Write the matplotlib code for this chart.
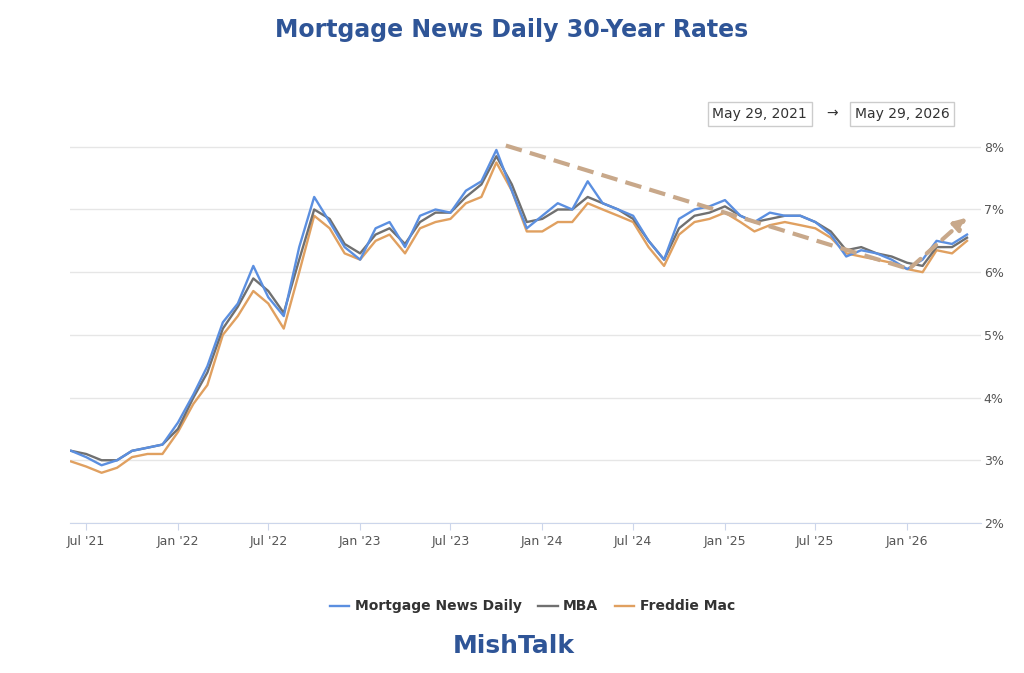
import numpy as np
import pandas as pd
import matplotlib
matplotlib.use('Agg')
import matplotlib.pyplot as plt
import matplotlib.dates as mdates

# monthly readings, Jun 2021 .. May 2026
months = pd.date_range("2021-06-01", "2026-05-01", freq="MS")

mnd = [3.15, 3.05, 2.92, 3.0, 3.15, 3.2, 3.25,
       3.6, 4.05, 4.5, 5.2, 5.5, 6.1, 5.6, 5.3, 6.4, 7.2, 6.8, 6.4,
       6.2, 6.7, 6.8, 6.4, 6.9, 7.0, 6.95, 7.3, 7.45, 7.95, 7.3, 6.7,
       6.9, 7.1, 7.0, 7.45, 7.1, 7.0, 6.9, 6.5, 6.2, 6.85, 7.0, 7.05,
       7.15, 6.9, 6.8, 6.95, 6.9, 6.9, 6.8, 6.6, 6.25, 6.35, 6.3, 6.2,
       6.05, 6.2, 6.5, 6.45, 6.6]
mba = [3.15, 3.1, 3.0, 3.0, 3.15, 3.2, 3.25,
       3.5, 4.0, 4.4, 5.1, 5.45, 5.9, 5.7, 5.35, 6.2, 7.0, 6.85, 6.45,
       6.3, 6.6, 6.7, 6.45, 6.8, 6.95, 6.95, 7.2, 7.4, 7.85, 7.4, 6.8,
       6.85, 7.0, 7.0, 7.2, 7.1, 7.0, 6.85, 6.5, 6.2, 6.7, 6.9, 6.95,
       7.05, 6.9, 6.8, 6.85, 6.9, 6.9, 6.8, 6.65, 6.35, 6.4, 6.3, 6.25,
       6.15, 6.1, 6.4, 6.4, 6.55]
freddie = [2.98, 2.9, 2.8, 2.88, 3.05, 3.1, 3.1,
           3.45, 3.9, 4.2, 5.0, 5.3, 5.7, 5.5, 5.1, 6.0, 6.9, 6.7, 6.3,
           6.2, 6.5, 6.6, 6.3, 6.7, 6.8, 6.85, 7.1, 7.2, 7.75, 7.3, 6.65,
           6.65, 6.8, 6.8, 7.1, 7.0, 6.9, 6.8, 6.4, 6.1, 6.6, 6.8, 6.85,
           6.95, 6.8, 6.65, 6.75, 6.8, 6.75, 6.7, 6.55, 6.3, 6.25, 6.2, 6.15,
           6.05, 6.0, 6.35, 6.3, 6.5]

fig = plt.figure(figsize=(10.24, 6.73), dpi=100)
ax = fig.add_axes([0.068, 0.223, 0.89, 0.652])

l_mnd, = ax.plot(months, mnd, color="#5b8fe0", lw=1.7, label="Mortgage News Daily", zorder=4)
l_mba, = ax.plot(months, mba, color="#707070", lw=1.7, label="MBA", zorder=3)
l_fm, = ax.plot(months, freddie, color="#e0a060", lw=1.7, label="Freddie Mac", zorder=2)

# trend arrows
tan = "#c8a88a"
ax.plot([pd.Timestamp("2023-10-20"), pd.Timestamp("2026-01-05")], [8.02, 6.05],
        ls=(0, (4, 2)), color=tan, lw=3, zorder=5)
ax.annotate("", xy=(pd.Timestamp("2026-05-05"), 6.9), xytext=(pd.Timestamp("2026-01-05"), 6.05),
            arrowprops=dict(arrowstyle="-|>", color=tan, lw=3, ls=(0, (3, 2)), mutation_scale=18), zorder=5)

ax.set_xlim(pd.Timestamp("2021-05-29"), pd.Timestamp("2026-05-29"))
ax.set_ylim(2, 9)
ax.yaxis.tick_right()
ax.set_yticks([2, 3, 4, 5, 6, 7, 8])
ax.set_yticklabels([f"{v}%" for v in [2, 3, 4, 5, 6, 7, 8]])
ax.xaxis.set_major_locator(mdates.MonthLocator(bymonth=[1, 7]))
ax.xaxis.set_major_formatter(mdates.DateFormatter("%b '%y"))
ax.tick_params(axis="y", length=0, labelsize=9, colors="#555555", pad=2)
ax.tick_params(axis="x", length=5, labelsize=9, colors="#555555", color="#ccd6eb")
ax.grid(axis="y", color="#e6e6e6", lw=1)
for s in ["top", "right", "left"]:
    ax.spines[s].set_visible(False)
ax.spines["bottom"].set_color("#ccd6eb")

fig.text(0.5, 0.955, "Mortgage News Daily 30-Year Rates", ha="center", va="center",
         fontsize=17, fontweight="bold", color="#2f5597")
box = dict(boxstyle="square,pad=0.35", fc="white", ec="#cccccc")
fig.text(0.742, 0.831, "May 29, 2021", ha="center", va="center", fontsize=10, color="#333333", bbox=box)
fig.text(0.813, 0.831, "\u2192", ha="center", va="center", fontsize=10, color="#333333")
fig.text(0.881, 0.831, "May 29, 2026", ha="center", va="center", fontsize=10, color="#333333", bbox=box)

leg = fig.legend(handles=[l_mnd, l_mba, l_fm], loc="center",
                 bbox_to_anchor=(0.52, 0.099), ncol=3, frameon=False, fontsize=10,
                 handlelength=1.4, columnspacing=1.2, handletextpad=0.4)
for t in leg.get_texts():
    t.set_color("#333333")
    t.set_fontweight("bold")
fig.text(0.502, 0.04, "MishTalk", ha="center", va="center", fontsize=18,
         fontweight="bold", color="#2f5597")

fig.savefig("out.png", dpi=100)
